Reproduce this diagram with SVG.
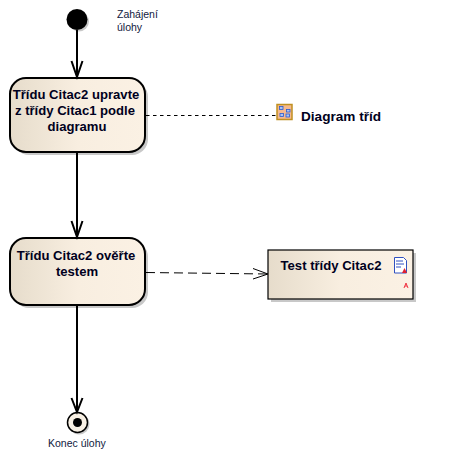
<svg xmlns="http://www.w3.org/2000/svg" width="451" height="466" viewBox="0 0 451 466">
<style>
text{font-family:"Liberation Sans",Arial,sans-serif;fill:#000020}
.b{font-size:13.100px;font-weight:bold;text-anchor:middle}
.s{font-size:10.500px;fill:#102040}
.sh{fill:#c8c8c8}
.n{fill:url(#g);stroke:#000;stroke-width:2}
.c{fill:none;stroke:#000;stroke-width:2}
.d{fill:none;stroke:#000;stroke-width:1}
</style>
<defs>
<linearGradient id="g" x1="0" x2="1" y1="0" y2="0"><stop offset="0" stop-color="#e6dccb"/><stop offset=".5" stop-color="#f8eee0"/><stop offset="1" stop-color="#fbf1e4"/></linearGradient>
</defs>
<rect width="451" height="466" fill="#fff"/>
<g id="start"><circle cx="79" cy="21.500" r="10" class="sh"/><circle cx="77" cy="19.500" r="10.500" fill="#000"/><text class="s" x="117" y="18">Zahájení</text><text class="s" x="117" y="31">úlohy</text></g>
<g id="n1"><rect x="13" y="81" width="135" height="74" rx="16" class="sh"/><rect x="10" y="78" width="135" height="74" rx="16" class="n"/><text class="b" x="76" y="99">Třídu Citac2 upravte</text><text class="b" x="75" y="115">z třídy Citac1 podle</text><text class="b" x="77" y="131">diagramu</text></g>
<g id="n2"><rect x="13" y="241" width="135" height="67" rx="16" class="sh"/><rect x="10" y="238" width="135" height="67" rx="16" class="n"/><text class="b" x="76" y="260">Třídu Citac2 ověřte</text><text class="b" x="77" y="276">testem</text></g>
<g id="end"><circle cx="79" cy="424" r="10.500" class="sh"/><circle cx="77.500" cy="422.500" r="10" fill="#f8f0e4" stroke="#000" stroke-width="1.500"/><circle cx="77.500" cy="422.500" r="4.500" fill="#000"/><text class="s" x="48" y="447">Konec úlohy</text></g>
<g id="diagram"><rect x="277" y="104.500" width="15" height="15" fill="#f5b98e" stroke="#c09020" stroke-width="1.500"/><g fill="#a8c4f4" stroke="#2a5ad0" stroke-width=".8"><rect x="279.500" y="106.500" width="3.500" height="3"/><rect x="286.500" y="109.500" width="3.500" height="2.500"/><rect x="280" y="113.500" width="3.500" height="3"/><rect x="286" y="114" width="3.500" height="3"/></g><text x="301" y="121" style="font-size:13.600px;font-weight:bold">Diagram tříd</text></g>
<g id="test"><rect x="271" y="253" width="145" height="49" class="sh"/><rect x="268" y="250" width="145" height="49" fill="url(#g)" stroke="#000" stroke-width="1.200"/><text class="b" x="331" y="270">Test třídy Citac2</text><path d="M394.500 257.500h9l3 3v12.500h-12z" fill="#fff" stroke="#3050c0"/><path d="M396 261h7M396 264h8M396 267h5" stroke="#3050c0" fill="none"/><path d="M402 273l2.500-5 2.500 5z" fill="#e02030"/><path d="M404 288l2-5 2 5M405 286h2" fill="none" stroke="#f03040" stroke-width="1"/></g>
<g id="connectors">
<path class="c" d="M77 30V77M71.500 61L77 77L82.500 61"/>
<path class="c" d="M77 152V237M71.500 221L77 237L82.500 221"/>
<path class="c" d="M77 305V411M71.500 398L77 412L82.500 398"/>
<path class="d" d="M146 115.500H277" stroke-dasharray="3.500 3.500"/>
<path class="d" d="M146 272.500L268 274" stroke="#222" stroke-dasharray="9 5"/>
<path class="d" d="M253 268.500L268 274L253 279"/>
</g>
</svg>
